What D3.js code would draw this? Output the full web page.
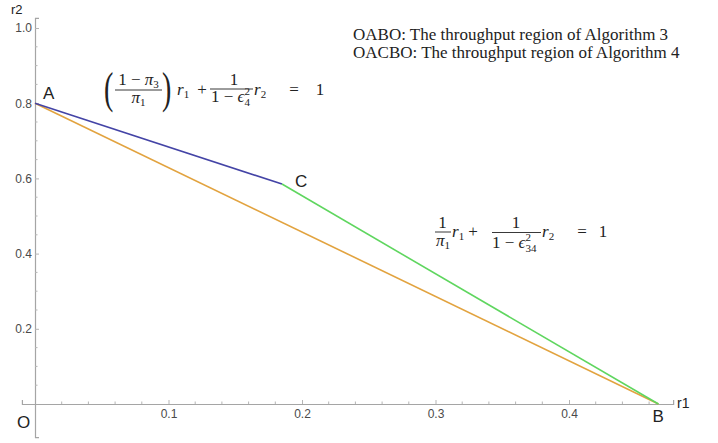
<!DOCTYPE html>
<html>
<head>
<meta charset="utf-8">
<script src="https://cdn.jsdelivr.net/npm/d3@7"></script>
<style>
  body { margin: 0; background: #fff; }
  .tick text { font-family: "Liberation Sans", Arial, sans-serif; font-size: 12px; fill: #4a4a4a; }
  .serif { font-family: "Liberation Serif", "Times New Roman", serif; fill: #222; }
  .sans { font-family: "Liberation Sans", Arial, sans-serif; fill: #222; }
</style>
</head>
<body>
<svg id="chart" width="718" height="443"></svg>
<script>
// corner points of the throughput regions
var pointNames = ["O", "A", "C", "B"];
var r1Values = [0, 0, 0.185, 0.467];
var r2Values = [0, 0.8, 0.585, 0];

// boundary segments (from, to)
var orangeSeg = ["A", "B"];
var blueSeg = ["A", "C"];
var greenSeg = ["C", "B"];

var xTicks = [0.1, 0.2, 0.3, 0.4];
var yTicks = [0.2, 0.4, 0.6, 0.8, 1.0];
var legendLines = [
  "OABO: The throughput region of Algorithm 3",
  "OACBO: The throughput region of Algorithm 4"
];

var svg = d3.select("#chart");

var x = d3.scaleLinear().domain([0, 0.5]).range([35, 702.5]);
var y = d3.scaleLinear().domain([0, 1]).range([404, 28]);

function pt(name) {
  var i = pointNames.indexOf(name);
  return [r1Values[i], r2Values[i]];
}

// axes, spanning a little past the data range like Mathematica does
var xAxisScale = x.copy().domain([-0.0098, 0.478]).range([x(-0.0098), x(0.478)]);
var yAxisScale = y.copy().domain([-0.088, 1.027]).range([y(-0.088), y(1.027)]);

var xMinor = d3.range(0.02, 0.47, 0.02).filter(function (v) { return Math.abs(v * 10 - Math.round(v * 10)) > 0.01; });
var yMinor = d3.range(0.05, 1.0, 0.05).filter(function (v) { return Math.abs(v * 5 - Math.round(v * 5)) > 0.01; });

var gx = svg.append("g").attr("transform", "translate(0," + y(0) + ")");
gx.call(d3.axisBottom(xAxisScale).tickValues(xTicks).tickSize(-4).tickPadding(5).tickFormat(d3.format(".1f")));
gx.append("g").selectAll("line").data(xMinor).enter().append("line")
  .attr("x1", function (d) { return x(d); }).attr("x2", function (d) { return x(d); })
  .attr("y1", 0).attr("y2", -2.5);

var gy = svg.append("g").attr("transform", "translate(" + x(0) + ",0)");
gy.call(d3.axisLeft(yAxisScale).tickValues(yTicks).tickSize(-4).tickPadding(3).tickFormat(d3.format(".1f")));
gy.append("g").selectAll("line").data(yMinor).enter().append("line")
  .attr("y1", function (d) { return y(d); }).attr("y2", function (d) { return y(d); })
  .attr("x1", 0).attr("x2", 2.5);

svg.selectAll(".domain").attr("stroke", "#a5a5a5").attr("stroke-width", 1.2);
svg.selectAll(".tick line").attr("stroke", "#a5a5a5");
gx.selectAll("g line").attr("stroke", "#b5b5b5");
gy.selectAll("g line").attr("stroke", "#b5b5b5");

// boundary lines
var line = d3.line().x(function (d) { return x(d[0]); }).y(function (d) { return y(d[1]); });
[[orangeSeg, "#e2a33f"], [blueSeg, "#4444a6"], [greenSeg, "#5fd65f"]].forEach(function (s) {
  svg.append("path")
    .attr("d", line([pt(s[0][0]), pt(s[0][1])]))
    .attr("fill", "none")
    .attr("stroke", s[1])
    .attr("stroke-width", 1.6);
});

// point labels
var labelOffset = { O: [-18, 24], A: [8, -4], C: [13, 3], B: [-6, 18] };
pointNames.forEach(function (n) {
  var p = pt(n);
  svg.append("text").attr("class", "sans")
    .attr("x", x(p[0]) + labelOffset[n][0])
    .attr("y", y(p[1]) + labelOffset[n][1])
    .attr("font-size", 17)
    .text(n);
});

// axis names
svg.append("text").attr("class", "sans").attr("fill", "#444")
  .attr("x", 677).attr("y", 408).attr("font-size", 14).text("r1");
svg.append("text").attr("class", "sans").attr("fill", "#444")
  .attr("x", 11).attr("y", 14).attr("font-size", 13).text("r2");

// legend text
svg.selectAll(".legend").data(legendLines).enter().append("text")
  .attr("class", "serif legend")
  .attr("x", 353)
  .attr("y", function (d, i) { return 40 + i * 17.8; })
  .attr("font-size", 17)
  .text(function (d) { return d; });

// small helpers for typeset formulas
var fs = 17, ss = 11;
function mtext(g, px, py, parts, anchor) {
  var t = g.append("text").attr("class", "serif")
    .attr("x", px).attr("y", py).attr("font-size", fs)
    .attr("text-anchor", anchor || "middle");
  parts.forEach(function (p) {
    var ts = t.append("tspan").text(p.t);
    if (p.i) ts.attr("font-style", "italic");
    if (p.s) ts.attr("font-size", p.s);
    if (p.dx) ts.attr("dx", p.dx);
    if (p.dy) ts.attr("dy", p.dy);
  });
  return t;
}
function bar(g, x1, x2, by) {
  g.append("line").attr("x1", x1).attr("x2", x2).attr("y1", by).attr("y2", by)
    .attr("stroke", "#222").attr("stroke-width", 0.9);
}
function paren(g, px, py, ch) {
  g.append("text").attr("class", "serif").attr("font-size", 28).attr("font-weight", 300)
    .attr("transform", "translate(" + px + "," + py + ") scale(1,1.55)").text(ch);
}

// formula 1
var f1 = svg.append("g");
paren(f1, 104, 103, "(");
mtext(f1, 138.5, 85, [{ t: "1 \u2212 " }, { t: "\u03c0", i: 1 }, { t: "3", s: ss, dy: 3 }]);
bar(f1, 115, 162, 90);
mtext(f1, 138.5, 103, [{ t: "\u03c0", i: 1 }, { t: "1", s: ss, dy: 3 }]);
paren(f1, 162, 103, ")");
mtext(f1, 177, 95, [{ t: "r", i: 1 }, { t: "1", s: ss, dy: 3 }], "start");
mtext(f1, 202, 95, [{ t: "+" }]);
mtext(f1, 234, 85, [{ t: "1" }]);
bar(f1, 210, 253, 89);
mtext(f1, 211, 102, [{ t: "1 \u2212 " }, { t: "\u03f5", i: 1 }, { t: "2", s: ss, dy: -7 }, { t: "4", s: ss, dx: -5.5, dy: 11 }], "start");
mtext(f1, 254, 95, [{ t: "r", i: 1 }, { t: "2", s: ss, dy: 3 }], "start");
mtext(f1, 294, 95, [{ t: "=" }]);
mtext(f1, 320, 95, [{ t: "1" }]);

// formula 2
var f2 = svg.append("g");
mtext(f2, 442.5, 228, [{ t: "1" }]);
bar(f2, 435, 451, 232);
mtext(f2, 443, 246, [{ t: "\u03c0", i: 1 }, { t: "1", s: ss, dy: 3 }]);
mtext(f2, 452, 237, [{ t: "r", i: 1 }, { t: "1", s: ss, dy: 3 }], "start");
mtext(f2, 473, 237, [{ t: "+" }]);
mtext(f2, 516, 228, [{ t: "1" }]);
bar(f2, 492, 541, 232.5);
mtext(f2, 492, 248, [{ t: "1 \u2212 " }, { t: "\u03f5", i: 1 }, { t: "2", s: ss, dy: -7 }, { t: "34", s: ss, dx: -5.5, dy: 11 }], "start");
mtext(f2, 542, 237, [{ t: "r", i: 1 }, { t: "2", s: ss, dy: 3 }], "start");
mtext(f2, 582, 237, [{ t: "=" }]);
mtext(f2, 603, 237, [{ t: "1" }]);
</script>
</body>
</html>
